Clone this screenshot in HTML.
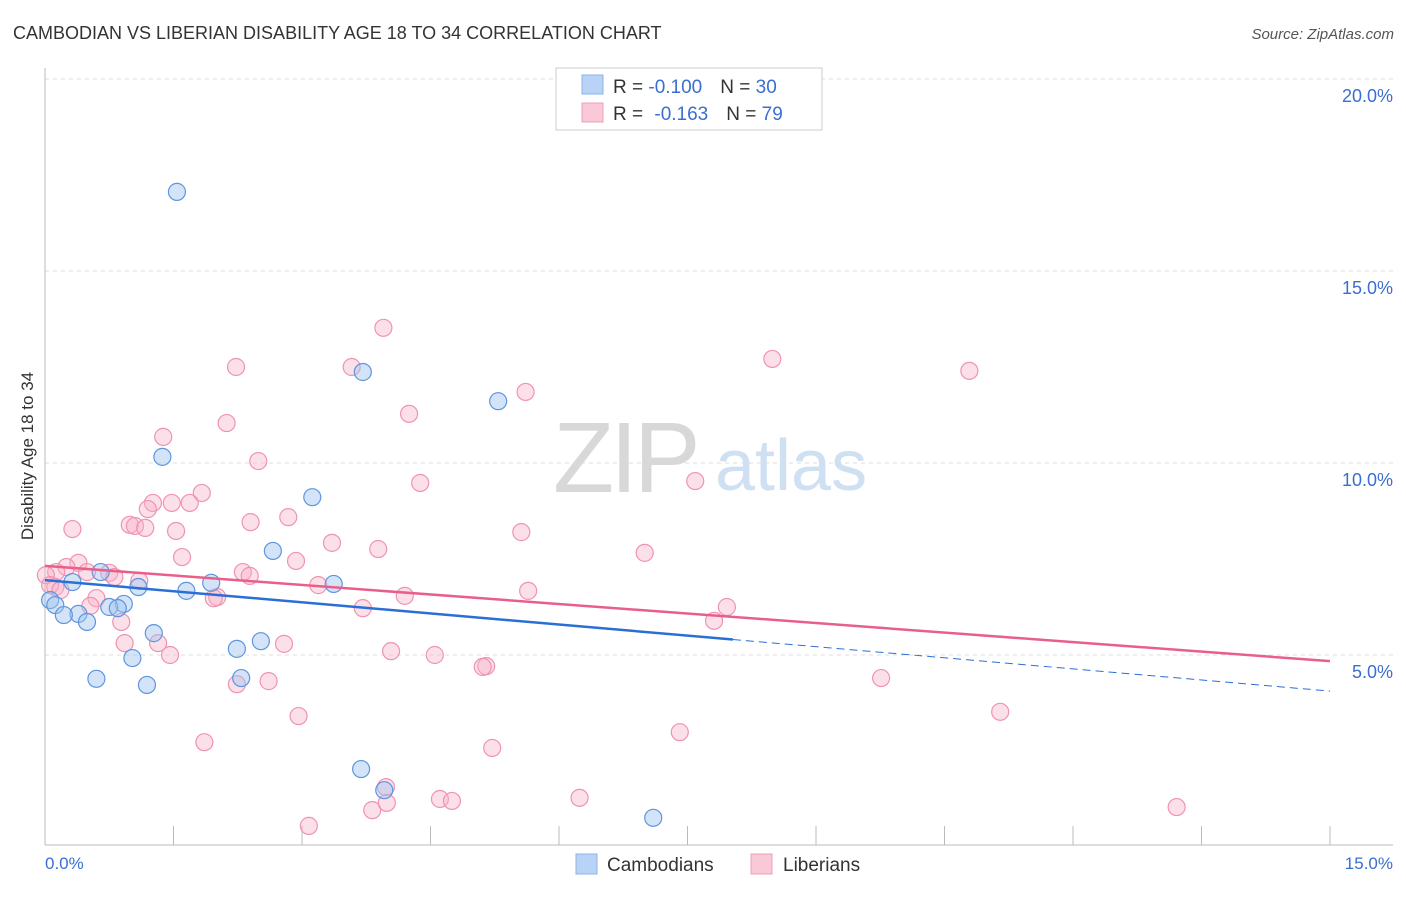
<!DOCTYPE html>
<html><head><meta charset="utf-8"><style>
body{margin:0;background:#fff;font-family:"Liberation Sans",sans-serif;}
svg text{font-family:"Liberation Sans",sans-serif;}
</style></head><body>
<svg id="chart" width="1406" height="892" viewBox="0 0 1406 892" xmlns="http://www.w3.org/2000/svg">
<text x="13" y="39" font-size="18" fill="#333">CAMBODIAN VS LIBERIAN DISABILITY AGE 18 TO 34 CORRELATION CHART</text>
<text x="1394" y="39" font-size="15" fill="#555" text-anchor="end" font-style="italic">Source: ZipAtlas.com</text>
<g id="grid"></g>
<g>
<text x="553" y="492" font-size="100" fill="#d8d8d8" font-family="Liberation Serif" letter-spacing="-4">ZIP</text>
<text x="715" y="490" font-size="72" fill="#cfe0f3">atlas</text>
</g>
<line x1="45" y1="68" x2="45" y2="845" stroke="#bbb"/>
<line x1="45" y1="845" x2="1393" y2="845" stroke="#bbb"/>
<text transform="translate(33,456) rotate(-90)" font-size="17" fill="#333" text-anchor="middle">Disability Age 18 to 34</text>
<text x="45" y="869" font-size="17" fill="#3a6fd0">0.0%</text>
<text x="1393" y="869" font-size="17" fill="#3a6fd0" text-anchor="end">15.0%</text>
<g id="points"></g>
<g id="lines"></g>
<g>
<rect x="556" y="68" width="266" height="62" fill="#fff" stroke="#ccc"/>
<rect x="582" y="75" width="21" height="19" fill="#b8d3f5" stroke="#8ab4e8"/>
<rect x="582" y="103" width="21" height="19" fill="#f9c9d7" stroke="#f0a0b8"/>
<text x="613" y="93" font-size="19" fill="#333">R = <tspan fill="#3a6fd0">-0.100</tspan><tspan dx="18">N = </tspan><tspan fill="#3a6fd0">30</tspan></text>
<text x="613" y="120" font-size="19" fill="#333">R = <tspan fill="#3a6fd0" dx="6">-0.163</tspan><tspan dx="18">N = </tspan><tspan fill="#3a6fd0">79</tspan></text>
</g>
<g>
<rect x="576" y="854" width="21" height="20" fill="#b8d3f5" stroke="#8ab4e8"/>
<text x="607" y="871" font-size="19" fill="#333">Cambodians</text>
<rect x="751" y="854" width="21" height="20" fill="#f9c9d7" stroke="#f0a0b8"/>
<text x="783" y="871" font-size="19" fill="#333">Liberians</text>
</g>
</svg>
<script>
const yTicks=[5,10,15,20];
const yTickLabels=["5.0%","10.0%","15.0%","20.0%"];
const xTicks=[0,1.5,3,4.5,6,7.5,9,10.5,12,13.5,15];
const cambX=[1.54,3.71,5.29,1.37,3.12,2.66,1.94,1.65,3.37,1.09,0.65,0.32,0.06,0.12,0.92,0.75,0.85,0.39,0.22,0.49,1.27,2.52,2.24,1.02,0.60,1.19,2.29,3.69,3.96,7.10];
const cambY=[17.06,12.37,11.61,10.16,9.11,7.71,6.88,6.67,6.85,6.77,7.16,6.90,6.43,6.30,6.33,6.25,6.22,6.07,6.04,5.86,5.57,5.36,5.16,4.92,4.38,4.22,4.40,2.03,1.48,0.76];
const libX=[3.95,2.23,3.58,8.49,10.79,5.61,4.25,2.12,1.38,2.49,4.38,7.59,1.83,1.26,1.48,1.69,1.20,2.84,2.40,0.99,1.05,1.17,0.32,1.53,5.56,3.35,3.89,7.00,1.60,2.93,0.39,0.25,0.13,0.01,2.31,2.39,0.75,0.81,0.49,1.10,3.19,5.64,0.12,4.20,0.60,2.01,1.97,0.53,7.96,3.71,7.81,0.89,0.93,1.32,2.79,1.46,4.04,4.55,5.15,5.11,2.61,2.24,9.76,2.96,11.15,1.86,7.41,5.22,3.98,4.61,4.75,6.24,3.82,3.99,13.21,3.08,0.06,0.18];
const libY=[13.52,12.50,12.50,12.71,12.40,11.85,11.28,11.04,10.68,10.05,9.48,9.53,9.22,8.96,8.96,8.96,8.80,8.59,8.46,8.39,8.36,8.31,8.28,8.23,8.20,7.92,7.76,7.66,7.55,7.45,7.40,7.29,7.16,7.08,7.16,7.06,7.14,7.03,7.16,6.93,6.82,6.67,6.77,6.54,6.48,6.51,6.48,6.28,6.25,6.22,5.89,5.86,5.31,5.31,5.29,5.00,5.10,5.00,4.71,4.69,4.32,4.24,4.40,3.41,3.52,2.73,2.99,2.58,1.56,1.25,1.20,1.28,0.96,1.15,1.04,0.55,6.82,6.69];
const cambTrend=[6.95,4.06];
const cambSolidEnd=8.03;
const libTrend=[7.32,4.84];

const NS="http://www.w3.org/2000/svg";
const xs=v=>45+v*(1330-45)/15;
const ys=v=>847-v*38.4;
function mk(tag,attrs,parent){const e=document.createElementNS(NS,tag);for(const k in attrs)e.setAttribute(k,attrs[k]);parent.appendChild(e);return e;}
const grid=document.getElementById('grid');
yTicks.forEach((t,i)=>{
  const l=mk('line',{x1:45,x2:1393,y1:ys(t),y2:ys(t),stroke:'#ddd','stroke-dasharray':'4,4'},grid);
  
  
  const tx=mk('text',{x:1393,y:ys(t)+23,'font-size':18,fill:'#3a6fd0','text-anchor':'end'},grid);
  tx.textContent=yTickLabels[i];
  
  
});
xTicks.forEach(t=>{
  const l=mk('line',{x1:xs(t),x2:xs(t),y1:826,y2:845,stroke:'#bbb'},grid);
  
  
});
const pts=document.getElementById('points');
libX.forEach((x,i)=>{
  const c=mk('circle',{cx:xs(x),cy:ys(libY[i]),r:8.5,fill:'rgba(248,178,200,0.4)',stroke:'#f093b0','stroke-width':1.2},pts);
  
  
});
cambX.forEach((x,i)=>{
  const c=mk('circle',{cx:xs(x),cy:ys(cambY[i]),r:8.5,fill:'rgba(160,196,240,0.45)',stroke:'#5f95dd','stroke-width':1.2},pts);
  
  
});
const lines=document.getElementById('lines');
const lerp=(a,t)=>a[0]+(a[1]-a[0])*t/15;
let l1=mk('line',{x1:xs(0),y1:ys(libTrend[0]),x2:xs(15),y2:ys(libTrend[1]),stroke:'#e8608a','stroke-width':2.5},lines);


let l2=mk('line',{x1:xs(0),y1:ys(cambTrend[0]),x2:xs(cambSolidEnd),y2:ys(lerp(cambTrend,cambSolidEnd)),stroke:'#2a6fd6','stroke-width':2.5},lines);


let l3=mk('line',{x1:xs(cambSolidEnd),y1:ys(lerp(cambTrend,cambSolidEnd)),x2:xs(15),y2:ys(cambTrend[1]),stroke:'#2a6fd6','stroke-width':1,'stroke-dasharray':'8,5'},lines);


</script>
</body></html>
